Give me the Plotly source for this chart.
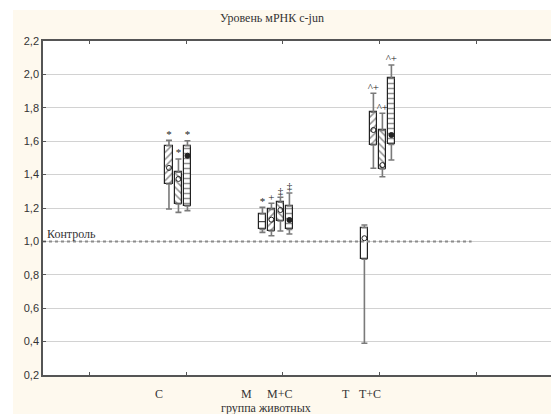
import plotly.graph_objects as go

# ---- data ----
q1 = [1.344, 1.224, 1.212, 1.072, 1.062, 1.122, 1.072, 0.893, 1.577, 1.434, 1.581]
q3 = [1.573, 1.414, 1.573, 1.164, 1.192, 1.234, 1.212, 1.082, 1.773, 1.665, 1.977]
lower = [1.194, 1.174, 1.184, 1.054, 1.034, 1.062, 1.044, 0.390, 1.438, 1.387, 1.487]
upper = [1.605, 1.493, 1.603, 1.204, 1.228, 1.264, 1.290, 1.098, 1.887, 1.767, 2.056]
center = [1.440, 1.374, 1.513, 1.118, 1.130, 1.188, 1.128, 1.019, 1.667, 1.457, 1.637]
signif = ["*", "*", "*", "*", "+", "‡", "‡", "", "^+", "^+", "^+"]
cat_labels = ["C", "M", "M+C", "T", "T+C"]
control_value = 1.0
y_ticks = [0.2, 0.4, 0.6, 0.8, 1.0, 1.2, 1.4, 1.6, 1.8, 2.0, 2.2]

# ---- layout positions / styles ----
box_x = [1.822, 1.920, 2.013, 2.788, 2.881, 2.974, 3.067, 3.842, 3.935, 4.028, 4.121]
cat_x = [1.724, 2.623, 2.964, 3.656, 3.904]
patterns = ["/", "\\", "-", "", "/", "\\", "-", "", "/", "\\", "-"]
mk_symbols = ["circle-open", "circle-open", "circle", "line-ew-open", "circle-open",
              "circle-open", "circle", "circle-open", "circle-open", "circle-open", "circle"]

serif = "Liberation Serif, Times New Roman, serif"
sans = "Liberation Sans, Arial, sans-serif"
whisk_col = "#7a7a7a"

FIG_W = 580          # wider than the window: the plot is cropped on the right, as in the original
PLOT_W = FIG_W - 43  # plot area width in px
PX_PER_UNIT = 96.75

fig = go.Figure()

# control line
fig.add_trace(go.Scatter(x=[0.52, 4.95], y=[control_value, control_value], mode="lines",
                         line=dict(color="#8c8c8c", width=2, dash="dot"),
                         hoverinfo="skip", showlegend=False))

# boxes
fig.add_trace(go.Bar(x=box_x, base=q1, y=[b - a for a, b in zip(q1, q3)], width=0.078,
                     marker=dict(color="white",
                                 line=dict(color="#222", width=1.2),
                                 pattern=dict(shape=patterns, fgcolor="#222", bgcolor="white",
                                              size=5, solidity=0.3)),
                     showlegend=False, hoverinfo="skip"))

# upper whiskers
fig.add_trace(go.Scatter(x=box_x, y=q3, mode="markers",
                         marker=dict(size=1, color="rgba(0,0,0,0)"),
                         error_y=dict(type="data", symmetric=False,
                                      array=[u - t for u, t in zip(upper, q3)],
                                      arrayminus=[0] * len(q3),
                                      color=whisk_col, thickness=1.6, width=3),
                         showlegend=False, hoverinfo="skip"))
# lower whiskers
fig.add_trace(go.Scatter(x=box_x, y=q1, mode="markers",
                         marker=dict(size=1, color="rgba(0,0,0,0)"),
                         error_y=dict(type="data", symmetric=False,
                                      array=[0] * len(q1),
                                      arrayminus=[b - l for b, l in zip(q1, lower)],
                                      color=whisk_col, thickness=1.6, width=3),
                         showlegend=False, hoverinfo="skip"))

# centre markers
fig.add_trace(go.Scatter(x=box_x, y=center, mode="markers",
                         marker=dict(symbol=mk_symbols, size=5, color="#222",
                                     line=dict(color="#222", width=1)),
                         showlegend=False, hoverinfo="skip"))

# significance marks
fig.add_trace(go.Scatter(x=box_x, y=upper, mode="text", text=signif,
                         textposition="top center",
                         textfont=dict(family=serif, size=11, color="#222222"),
                         showlegend=False, hoverinfo="skip"))

# category labels
for lab, xv in zip(cat_labels, cat_x):
    fig.add_annotation(x=xv, y=0, xref="x", yref="paper", yshift=-28, text=lab,
                       showarrow=False, font=dict(family=serif, size=12, color="#333"))

fig.add_annotation(x=(266 - 43) / PLOT_W, y=0, xref="paper", yref="paper", yshift=-42,
                   text="группа животных", showarrow=False,
                   font=dict(family=serif, size=12, color="#333"))

fig.add_annotation(x=0.52, y=control_value, xref="x", yref="y", xanchor="left",
                   yanchor="bottom", xshift=2, yshift=-2, text="Контроль", showarrow=False,
                   font=dict(family=serif, size=12, color="#333"))

# white strips outside the cream panel
fig.add_shape(type="rect", xref="paper", yref="paper", x0=-0.3, x1=1.2,
              y0=(375 - 10) / 334, y1=1.4, fillcolor="white", line=dict(width=0))
fig.add_shape(type="rect", xref="paper", yref="paper", x0=-0.3, x1=(13 - 43) / PLOT_W,
              y0=-0.4, y1=1.4, fillcolor="white", line=dict(width=0))

fig.update_layout(
    width=FIG_W, height=414,
    margin=dict(l=43, r=0, t=41, b=39, autoexpand=False),
    paper_bgcolor="#fef9ee", plot_bgcolor="white",
    separators=", ",
    hovermode=False,
    title=dict(text="Уровень мРНК c-jun", x=272 / FIG_W, xanchor="center",
               y=1 - 18 / 414, yanchor="middle", xref="container", yref="container",
               font=dict(family=serif, size=12, color="#333")),
    xaxis=dict(range=[0.52, 0.52 + PLOT_W / PX_PER_UNIT], tickvals=[1, 2, 3, 4, 5],
               showticklabels=False, ticks="inside", ticklen=3, tickcolor="#555",
               showline=True, linecolor="#555", linewidth=1.5, mirror="ticks",
               showgrid=False, zeroline=False, fixedrange=True, automargin=False),
    yaxis=dict(range=[0.2, 2.2], tickvals=y_ticks, tickformat=".1f",
               ticks="inside", ticklen=3, tickcolor="#555",
               showline=True, linecolor="#555", linewidth=1.5, mirror=False,
               showgrid=True, gridcolor="#d2d2d2", gridwidth=1, zeroline=False,
               tickfont=dict(family=sans, size=11, color="#333"), fixedrange=True,
               automargin=False),
    bargap=0, barmode="overlay",
)

fig.write_html("out.html", config={"displayModeBar": False},
               post_script="document.body.style.margin='0';document.body.style.overflow='hidden';")
